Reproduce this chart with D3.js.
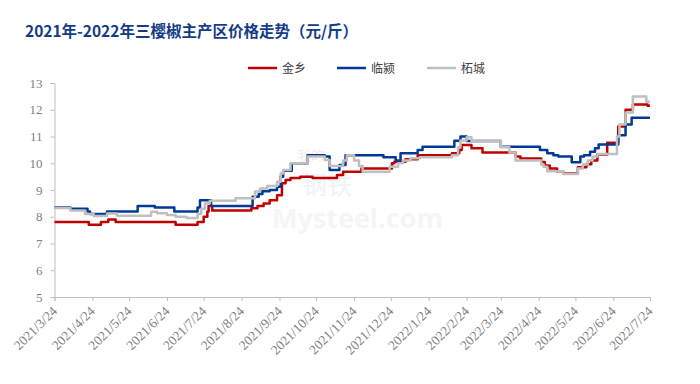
<!DOCTYPE html>
<html><head><meta charset="utf-8">
<script src="https://cdn.jsdelivr.net/npm/d3@7"></script>
<style>body{margin:0;background:#fff;}svg{display:block;}</style>
</head><body>
<svg id="chart" width="700" height="384"></svg>
<script>
const titleText = "2021年-2022年三樱椒主产区价格走势（元/斤）";
const seriesNames = ["金乡", "临颍", "柘城"];
const seriesColors = ["#c00000", "#003a96", "#bfbfbf"];

const jinxiangDates = ["2021-03-24","2021-04-21","2021-05-01","2021-05-07","2021-05-13","2021-07-01","2021-07-19","2021-07-24","2021-07-27","2021-07-28","2021-07-31","2021-09-01","2021-09-06","2021-09-11","2021-09-16","2021-09-22","2021-09-26","2021-09-29","2021-10-03","2021-10-11","2021-10-21","2021-11-10","2021-11-15","2021-11-30","2021-12-25","2021-12-27","2022-01-05","2022-01-15","2022-02-12","2022-02-18","2022-02-20","2022-02-28","2022-03-09","2022-04-05","2022-04-09","2022-04-26","2022-04-29","2022-05-03","2022-05-09","2022-05-14","2022-05-26","2022-06-02","2022-06-06","2022-06-11","2022-06-19","2022-06-28","2022-07-04","2022-07-10","2022-07-22","2022-07-24"];
const jinxiangValues = [7.8,7.7,7.8,7.9,7.8,7.7,7.8,8.0,8.2,8.4,8.23,8.32,8.4,8.5,8.62,8.8,9.25,9.37,9.45,9.5,9.45,9.56,9.68,9.8,10.0,10.06,10.15,10.3,10.37,10.5,10.68,10.56,10.4,10.25,10.18,10.05,9.92,9.8,9.7,9.62,9.85,9.96,10.1,10.33,10.77,11.37,12.0,12.2,12.15,12.15];

const linyingDates = ["2021-03-24","2021-04-06","2021-04-20","2021-04-22","2021-05-06","2021-05-31","2021-06-14","2021-06-30","2021-07-19","2021-07-21","2021-07-30","2021-09-02","2021-09-07","2021-09-10","2021-09-16","2021-09-22","2021-09-25","2021-09-27","2021-10-04","2021-10-17","2021-10-31","2021-11-04","2021-11-12","2021-11-17","2021-12-18","2021-12-28","2022-01-01","2022-01-15","2022-01-19","2022-02-14","2022-02-19","2022-02-24","2022-03-24","2022-04-25","2022-05-01","2022-05-06","2022-05-10","2022-05-21","2022-05-28","2022-05-31","2022-06-05","2022-06-09","2022-06-12","2022-06-28","2022-07-04","2022-07-09","2022-07-24"];
const linyingValues = [8.35,8.3,8.2,8.1,8.2,8.4,8.35,8.2,8.35,8.62,8.4,8.75,8.85,8.95,9.0,9.12,9.5,9.72,10.0,10.3,10.25,9.75,9.93,10.3,10.22,10.1,10.37,10.5,10.62,10.84,11.0,10.83,10.62,10.5,10.37,10.3,10.25,10.04,10.25,10.3,10.43,10.56,10.7,11.05,11.45,11.7,11.7];

const zhechengDates = ["2021-03-24","2021-04-06","2021-04-18","2021-04-25","2021-05-06","2021-05-14","2021-06-11","2021-06-16","2021-06-24","2021-07-01","2021-07-10","2021-07-19","2021-07-22","2021-07-25","2021-07-29","2021-08-19","2021-09-04","2021-09-08","2021-09-14","2021-09-22","2021-09-25","2021-09-27","2021-10-03","2021-10-17","2021-10-31","2021-11-04","2021-11-15","2021-11-18","2021-11-24","2021-11-28","2021-12-01","2021-12-23","2021-12-30","2022-01-03","2022-01-09","2022-01-17","2022-02-12","2022-02-17","2022-02-19","2022-02-24","2022-02-28","2022-03-24","2022-03-31","2022-04-05","2022-04-26","2022-04-28","2022-05-01","2022-05-14","2022-05-26","2022-05-30","2022-06-03","2022-06-07","2022-06-11","2022-06-27","2022-06-29","2022-07-04","2022-07-10","2022-07-21","2022-07-24"];
const zhechengValues = [8.33,8.23,8.1,8.03,8.12,8.04,8.19,8.13,8.07,8.0,7.95,8.1,8.3,8.5,8.6,8.69,8.94,9.06,9.15,9.31,9.62,9.75,10.0,10.25,10.12,9.9,10.1,10.3,10.1,9.9,9.68,9.87,10.0,10.1,10.19,10.22,10.3,10.6,10.85,10.97,10.83,10.6,10.4,10.1,9.95,9.87,9.7,9.6,9.8,9.95,10.1,10.25,10.35,11.0,11.45,11.9,12.5,12.3,12.3];

const xTickLabels = ["2021/3/24","2021/4/24","2021/5/24","2021/6/24","2021/7/24","2021/8/24","2021/9/24","2021/10/24","2021/11/24","2021/12/24","2022/1/24","2022/2/24","2022/3/24","2022/4/24","2022/5/24","2022/6/24","2022/7/24"];
const yTickValues = [5,6,7,8,9,10,11,12,13];

const parseISO = d3.timeParse("%Y-%m-%d");
const parseTick = d3.timeParse("%Y/%m/%d");

const svg = d3.select("#chart");
const plot = {left: 54.5, right: 650, top: 83, bottom: 297};

const x = d3.scaleTime()
  .domain([parseTick(xTickLabels[0]), parseTick(xTickLabels[xTickLabels.length - 1])])
  .range([plot.left, plot.right]);
const y = d3.scaleLinear().domain([5, 13]).range([plot.bottom, plot.top]);

// title
svg.append("text")
  .attr("x", 25).attr("y", 37)
  .attr("font-family", "'Noto Sans CJK SC', sans-serif")
  .attr("font-weight", "bold").attr("font-size", 15.5)
  .attr("fill", "#133c86")
  .text(titleText);

// watermark (very faint)
const wm = svg.append("g").attr("pointer-events", "none");
wm.append("text").attr("x", 298).attr("y", 160)
  .attr("font-family", "'Noto Sans CJK SC', sans-serif").attr("font-size", 13)
  .attr("fill", "#f8e9e9").text("我的");
wm.append("text").attr("x", 302).attr("y", 194)
  .attr("font-family", "'Noto Sans CJK SC', sans-serif").attr("font-size", 25)
  .attr("fill", "#eff2f8").text("钢铁");
wm.append("text").attr("x", 272).attr("y", 228)
  .attr("font-family", "'Open Sans', sans-serif").attr("font-weight", "bold").attr("font-size", 27)
  .attr("fill", "#f5f5f5").text("Mysteel.com");

// y axis
const yAxis = svg.append("g")
  .attr("transform", `translate(${plot.left},0)`)
  .call(d3.axisLeft(y).tickValues(yTickValues).tickSize(4).tickPadding(8).tickFormat(d3.format("d")));
yAxis.select(".domain").attr("stroke", "#bfbfbf");
yAxis.selectAll(".tick line").attr("stroke", "#bfbfbf");
yAxis.selectAll(".tick text")
  .attr("font-family", "'Liberation Serif', 'Times New Roman', serif")
  .attr("font-size", 13).attr("fill", "#7f7f7f");

// x axis
const xTickDates = xTickLabels.map(parseTick);
const xAxis = svg.append("g")
  .attr("transform", `translate(0,${plot.bottom})`)
  .call(d3.axisBottom(x).tickValues(xTickDates).tickSize(4).tickFormat((d, i) => xTickLabels[i]));
xAxis.select(".domain").attr("stroke", "#bfbfbf");
xAxis.selectAll(".tick line").attr("stroke", "#bfbfbf");
xAxis.selectAll(".tick text")
  .attr("font-family", "'Liberation Serif', 'Times New Roman', serif")
  .attr("font-size", 13.5).attr("fill", "#7f7f7f")
  .attr("text-anchor", "end")
  .attr("dy", 0).attr("y", 0)
  .attr("transform", "translate(3,15) rotate(-45)");

// lines
const series = [
  {name: seriesNames[0], color: seriesColors[0], dates: jinxiangDates, values: jinxiangValues},
  {name: seriesNames[1], color: seriesColors[1], dates: linyingDates, values: linyingValues},
  {name: seriesNames[2], color: seriesColors[2], dates: zhechengDates, values: zhechengValues}
];
const line = d3.line()
  .x(d => x(d.date)).y(d => y(d.value))
  .curve(d3.curveStepAfter);
series.forEach(s => {
  const pts = s.dates.map((d, i) => ({date: parseISO(d), value: s.values[i]}));
  svg.append("path").datum(pts)
    .attr("fill", "none").attr("stroke", s.color)
    .attr("stroke-width", 2.5).attr("stroke-linejoin", "round")
    .attr("d", line);
});

// legend
const legendX = [248, 337, 427];
const lg = svg.append("g");
series.forEach((s, i) => {
  lg.append("line").attr("x1", legendX[i]).attr("x2", legendX[i] + 29)
    .attr("y1", 68).attr("y2", 68)
    .attr("stroke", s.color).attr("stroke-width", 2.5);
  lg.append("text").attr("x", legendX[i] + 34).attr("y", 72.5)
    .attr("font-family", "'Noto Sans CJK SC', sans-serif")
    .attr("font-size", 12).attr("fill", "#404040")
    .text(s.name);
});
</script>
</body></html>
